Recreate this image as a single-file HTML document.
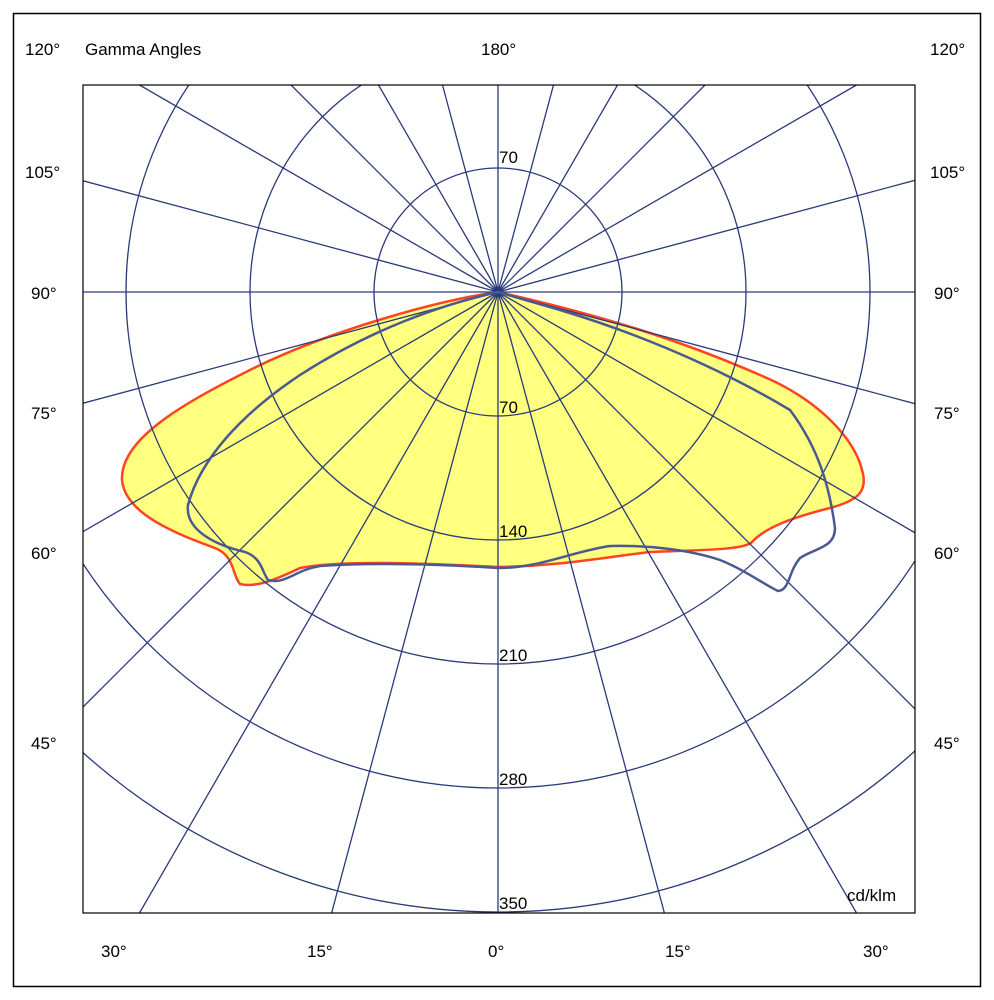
<!DOCTYPE html>
<html><head><meta charset="utf-8"><style>
html,body{margin:0;padding:0;background:#fff;overflow:hidden;width:994px;height:1000px;}
#w{position:absolute;left:0;top:0;width:994px;height:1000px;overflow:hidden;}
svg{position:absolute;left:0;top:0;display:block;overflow:hidden;}
text{font-family:"Liberation Sans",sans-serif;font-size:17px;fill:#000;}
</style></head><body><div id="w">
<svg width="994" height="1000" viewBox="0 0 994 1000">
<rect x="0" y="0" width="994" height="1000" fill="#fff"/>
<rect x="13.5" y="13.5" width="967" height="973" fill="none" stroke="#000" stroke-width="1.5"/>
<defs><clipPath id="c"><rect x="83" y="85" width="832" height="828"/></clipPath></defs>
<g clip-path="url(#c)">
<path d="M498,292 C440,300 330,330 250,370 C180,405 120,440 122,480 C125,515 180,535 215,548 C235,556 232,575 240,584 C255,588 275,580 300,568 C340,560 420,563 498,567 C560,566 600,558 650,552 C700,550 745,550 752,542 C765,528 790,518 830,508 C860,500 868,490 862,470 C855,440 820,400 760,375 C680,340 600,315 498,292 Z" fill="#ffff80" stroke="#ff4422" stroke-width="2.5"/>
<g stroke="#2a3a7a" stroke-width="1.3" fill="none">
<circle cx="498" cy="292" r="124"/>
<circle cx="498" cy="292" r="248"/>
<circle cx="498" cy="292" r="372"/>
<circle cx="498" cy="292" r="496"/>
<circle cx="498" cy="292" r="620"/>
<line x1="498" y1="85" x2="498" y2="913"/>
<line x1="83" y1="292" x2="915" y2="292"/>
<path d="M498,292L915,403.7M498,292L915,532.8M498,292L915,709M498,292L856.5,913M498,292L664.4,913M498,292L331.6,913M498,292L139.5,913M498,292L83,707M498,292L83,531.6M498,292L83,403.2M498,292L83,180.8M498,292L139.5,85M498,292L291,85M498,292L378.5,85M498,292L442.5,85M498,292L553.5,85M498,292L617.5,85M498,292L705,85M498,292L856.5,85M498,292L915,180.3"/>
</g>
<path d="M498,292 C440,305 370,330 300,375 C240,415 200,460 188,505 C185,530 215,545 245,552 C262,558 262,572 268,580 C285,585 295,570 320,566 C380,562 450,565 498,568 C540,568 570,552 610,546 C650,545 690,550 720,560 C745,570 765,585 778,591 C790,590 788,572 800,558 C815,548 835,548 835,528 C830,490 820,450 790,410 C740,380 660,340 560,310 Z" fill="none" stroke="#4a5a90" stroke-width="2.5"/>
</g>
<rect x="83" y="85" width="832" height="828" fill="none" stroke="#000" stroke-width="1.2"/>
<text x="499" y="163">70</text>
<text x="499" y="413">70</text>
<text x="499" y="537">140</text>
<text x="499" y="661">210</text>
<text x="499" y="785">280</text>
<text x="499" y="909">350</text>
<text x="847" y="901">cd/klm</text>
<text x="85" y="55">Gamma Angles</text>
<text x="481" y="55">180°</text>
<text x="25" y="55">120°</text><text x="930" y="55">120°</text>
<text x="25" y="178">105°</text><text x="930" y="178">105°</text>
<text x="31" y="299">90°</text><text x="934" y="299">90°</text>
<text x="31" y="419">75°</text><text x="934" y="419">75°</text>
<text x="31" y="559">60°</text><text x="934" y="559">60°</text>
<text x="31" y="749">45°</text><text x="934" y="749">45°</text>
<text x="101" y="957">30°</text>
<text x="307" y="957">15°</text>
<text x="488" y="957">0°</text>
<text x="665" y="957">15°</text>
<text x="863" y="957">30°</text>
</svg></div>
</body></html>
